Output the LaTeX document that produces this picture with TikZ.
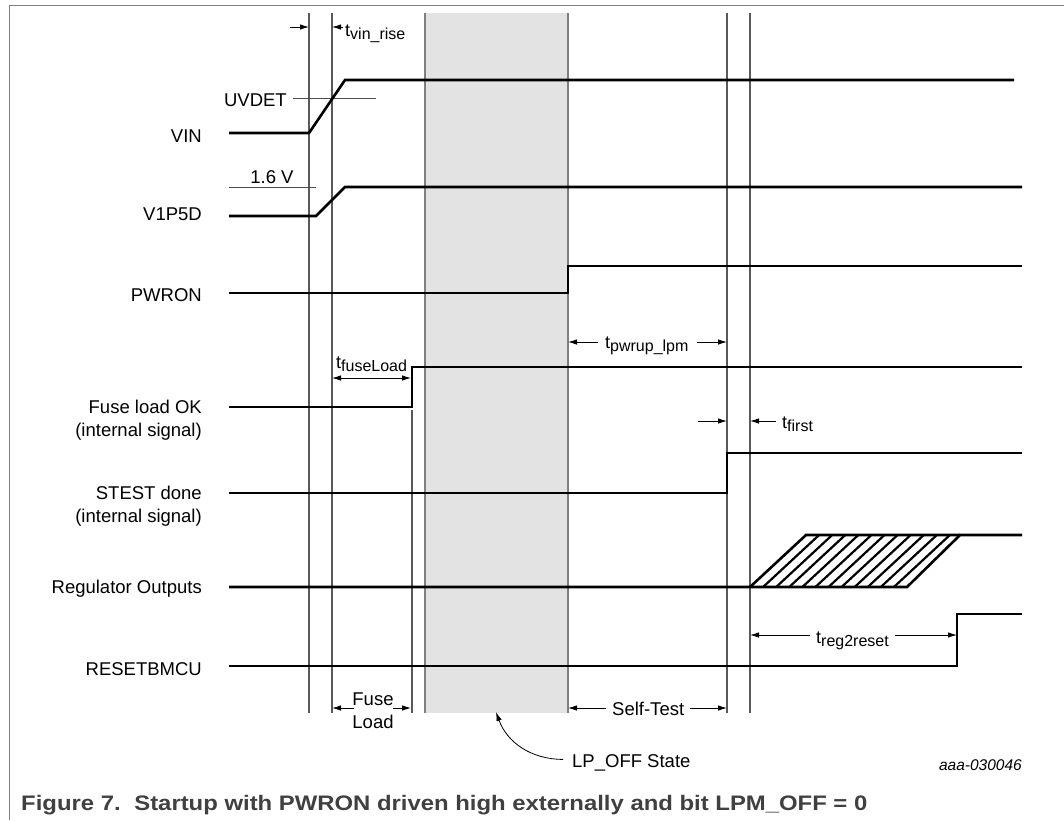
\documentclass[tikz,border=0pt]{standalone}
\usepackage{fontspec}
\setmainfont{Liberation Sans}
\usetikzlibrary{arrows.meta}
\newcommand\tsubs[1]{t\raisebox{-3.5pt}{\fontsize{16}{16}\selectfont #1}}
\definecolor{lpgray}{HTML}{E3E3E3}
\definecolor{capgray}{HTML}{404040}
\begin{document}
\begin{tikzpicture}[x=1pt,y=-1pt,
  sig/.style={line width=2.6pt, line join=miter, line cap=butt},
  hatchline/.style={line width=2.2pt},
  vline/.style={line width=1.1pt, draw=black!65},
  edgeline/.style={line width=1.2pt, draw=black!50},
  thin/.style={line width=1pt, draw=black!70},
  arr/.style={-{Latex[length=9pt,width=5.5pt]}, line width=0.9pt},
  darr/.style={{Latex[length=9pt,width=5.5pt]}-{Latex[length=9pt,width=5.5pt]}, line width=0.9pt},
  lbl/.style={font=\fontsize{18.5}{23}\selectfont, inner sep=0pt},
  sublbl/.style={font=\fontsize{18}{22}\selectfont, inner sep=0pt, anchor=base west},
  frame/.style={line width=1pt, draw=black!50}
]
\useasboundingbox (0,0) rectangle (1064,820);
% frame
\draw[frame] (9,820) -- (9,5) -- (1064,5);
% shaded LP_OFF region
\fill[lpgray] (425,13) rectangle (568,713);
\draw[edgeline] (425,13) -- (425,713);
\draw[edgeline] (568,13) -- (568,713);
% vertical reference lines
\draw[vline] (309,13) -- (309,713);
\draw[vline] (332,13) -- (332,713);
\draw[vline] (412,410) -- (412,713);
\draw[vline] (727,13) -- (727,713);
\draw[vline] (750,13) -- (750,713);
% thresholds
\draw[thin] (293,98) -- (376,98);
\draw[thin] (229,187) -- (316,187);
% signals
\draw[sig] (229,133) -- (309,133) -- (345,80) -- (1014,80);
\draw[sig] (229,216) -- (316,216) -- (345,187) -- (1022,187);
\draw[sig] (229,293) -- (568,293) -- (568,266) -- (1022,266);
\draw[sig] (229,407) -- (412,407) -- (412,367) -- (1022,367);
\draw[sig] (229,493) -- (727,493) -- (727,453) -- (1022,453);
\draw[sig] (229,587) -- (907,587) -- (960,535) -- (1022,535);
\draw[sig] (750,587) -- (806,535) -- (960,535);
\foreach \i in {1,...,11} {
  \draw[hatchline] ({750+\i*13.08},587) -- ++(56,-52);
}
\draw[sig] (229,666) -- (957,666) -- (957,614) -- (1022,614);
% signal labels
\node[lbl, anchor=base east] (lvin) at (202,142) {VIN};
\node[lbl, anchor=base east] (lv1p5d) at (202,220) {V1P5D};
\node[lbl, anchor=base east] (lpwron) at (202,301) {PWRON};
\node[lbl, anchor=base east] (lfuse) at (202,413) {Fuse load OK};
\node[lbl, anchor=base east] (lfuseb) at (202,436) {(internal signal)};
\node[lbl, anchor=base east] (lstest) at (202,499) {STEST done};
\node[lbl, anchor=base east] (lstestb) at (202,522) {(internal signal)};
\node[lbl, anchor=base east] (lreg) at (202,593) {Regulator Outputs};
\node[lbl, anchor=base east] (lreset) at (202,675) {RESETBMCU};
\node[lbl, anchor=base east] (luvdet) at (287,106) {UVDET};
\node[lbl, anchor=base] (l16) at (272,183) {1.6 V};
% timing annotations
\coordinate (a1s) at (290,27); \coordinate (a1e) at (309,27);
\coordinate (a2s) at (343,27); \coordinate (a2e) at (332,27);
\draw[arr] (a1s) -- (a1e);
\draw[arr] (a2s) -- (a2e);
\node[sublbl] (tvin) at (345,36) {\tsubs{vin\_rise}};

\coordinate (fls) at (332,378); \coordinate (fle) at (411,378);
\draw[darr] (fls) -- (fle);
\node[sublbl] (tfuse) at (336,368) {\tsubs{fuseLoad}};

\coordinate (p1s) at (598,342); \coordinate (p1e) at (568,342);
\coordinate (p2s) at (697,342); \coordinate (p2e) at (727,342);
\draw[arr] (p1s) -- (p1e);
\draw[arr] (p2s) -- (p2e);
\node[sublbl] (tpwrup) at (605,348) {\tsubs{pwrup\_lpm}};

\coordinate (f1s) at (698,421); \coordinate (f1e) at (727,421);
\coordinate (f2s) at (776,421); \coordinate (f2e) at (750,421);
\draw[arr] (f1s) -- (f1e);
\draw[arr] (f2s) -- (f2e);
\node[sublbl] (tfirst) at (782,428) {\tsubs{first}};

\coordinate (r1s) at (810,635); \coordinate (r1e) at (750,635);
\coordinate (r2s) at (895,635); \coordinate (r2e) at (957,635);
\draw[arr] (r1s) -- (r1e);
\draw[arr] (r2s) -- (r2e);
\node[sublbl] (treg) at (816,643) {\tsubs{reg2reset}};

% bottom phase labels
\coordinate (b1s) at (354,708); \coordinate (b1e) at (332,708);
\coordinate (b2s) at (393,708); \coordinate (b2e) at (411,708);
\draw[arr] (b1s) -- (b1e);
\draw[arr] (b2s) -- (b2e);
\node[lbl, anchor=base] (fuseA) at (373,705) {Fuse};
\node[lbl, anchor=base] (fuseB) at (373,728) {Load};

\coordinate (s1s) at (606,708); \coordinate (s1e) at (568,708);
\coordinate (s2s) at (690,708); \coordinate (s2e) at (727,708);
\draw[arr] (s1s) -- (s1e);
\draw[arr] (s2s) -- (s2e);
\node[lbl, anchor=base west] (selftest) at (612,715) {Self-Test};

\node[lbl, anchor=base west] (lpoff) at (572,767) {LP\_OFF State};
\coordinate (lpend) at (496,712);
\draw[arr, line width=0.8pt] (lpoff.west) ++(-9,-3) to[out=180,in=-70] (lpend);

\node[inner sep=0pt, anchor=base east, font=\itshape\fontsize{15.5}{18}\selectfont] (code) at (1022,770) {aaa-030046};
\node[inner sep=0pt, anchor=base west, text=capgray, font=\bfseries\fontsize{21}{24}\selectfont] (caption) at (21,810) {\scalebox{1.137}[1]{Figure 7.\hspace{12pt}Startup with PWRON driven high externally and bit LPM\_OFF = 0}};
\end{tikzpicture}
\end{document}
